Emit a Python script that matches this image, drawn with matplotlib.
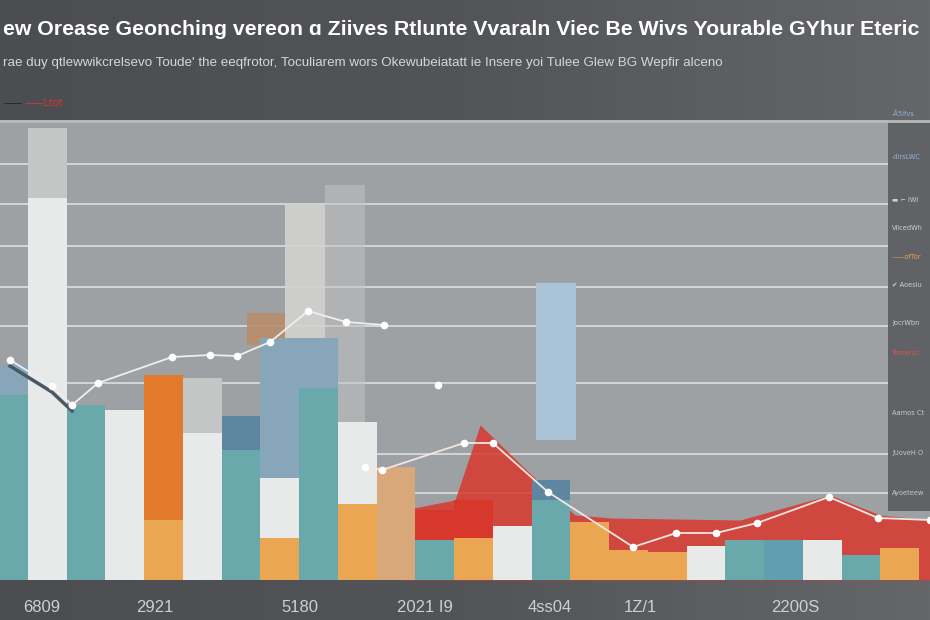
import numpy as np
import matplotlib
matplotlib.use("Agg")
import matplotlib.pyplot as plt
from matplotlib.patches import Rectangle
from matplotlib.colors import LinearSegmentedColormap

# === DONNEES ===
title = "ew Orease Geonching vereon ɑ Ziives Rtlunte Vvaraln Viec Be Wivs Yourable GYhur Eteric"
subtitle = ("rae duy qtlewwikcrelsevo Toude' the eeqfrotor, Toculiarem wors Okewubeiatatt "
            "ie Insere yoi Tulee Glew BG Wepfir alceno")

x_labels = ["6809", "2921", "5180", "2021 I9", "4ss04", "1Z/1", "2200S"]
x_label_pos = [0.86, 3.78, 7.52, 10.75, 13.97, 16.3, 20.3]

side_labels = ["-Å5ifvs", "-dirsLWC", "▬ ⌐ IWi", "ViicedWh", "——ofTor",
               "✔ Aoesiu", "JocrWbn", "Tomeroc", "Aamos Ct", "JUoveH O", "Ayoeteew"]
side_colors = ["#8fb4d8", "#8fb4d8", "#d0d0d0", "#d0d0d0", "#e9a25a", "#d0d0d0",
               "#d0d0d0", "#e0554a", "#c8c8c8", "#c8c8c8", "#c8c8c8"]
side_y = [466, 423, 380, 352, 323, 295, 257, 227, 167, 127, 87]

# barres empilées (24 catégories)
seg1 = [185, 382, 175, 170, 60, 147, 130, 42, 192, 76, 113, 40,
        42, 54, 80, 58, 30, 28, 34, 40, 40, 40, 25, 32]
seg2 = [30, 70, 0, 0, 145, 55, 34, 60, 50, 82, 0, 30,
        38, 0, 20, 0, 0, 0, 0, 0, 0, 0, 0, 0]
seg3 = [0, 0, 0, 0, 0, 0, 0, 140, 0, 0, 0, 0,
        0, 0, 0, 0, 0, 0, 0, 0, 0, 0, 0, 0]

# barres fantômes en arrière-plan
ghost_x = [6.67, 7.65, 8.68, 14.13]
ghost_bottom = [235, 140, 140, 140]
ghost_top = [267, 377, 395, 297]

grid_levels = [416, 376, 334, 293, 254, 197, 126, 87]

line1_x = [0.04, 1.12, 1.64, 2.31, 4.22, 5.2, 5.9, 6.75, 7.73, 8.71, 9.69]
line1_y = [220, 194, 175, 197, 223, 225, 224, 238, 269, 258, 255]

line2_x = [9.2, 9.64, 11.75, 12.5, 13.92, 16.12, 17.23, 18.26, 19.32, 21.17, 22.44, 23.78]
line2_y = [113, 110, 137, 137, 88, 33, 47, 47, 57, 83, 62, 60]

area_x = [10.18, 11.52, 12.17, 13.9, 14.62, 15.57, 18.88, 21.2, 22.49, 23.78]
area_y = [70, 80, 155, 90, 65, 62, 60, 85, 65, 60]

# === COULEURS ===
teal, white, orange, lorange = "#6aa9ab", "#e8e9e9", "#e27a2c", "#eaa653"
lgray, bgray, dblue, tan, red = "#c4c5c5", "#88a6ba", "#5d87a0", "#d9a87a", "#d8372c"
c1 = [teal, white, teal, white, lorange, white, teal, lorange, teal, lorange, tan, teal,
      lorange, white, teal, lorange, lorange, lorange, white, teal, "#5f9fb0", white, teal, lorange]
c2 = [bgray, lgray, dblue, white, orange, lgray, dblue, white, bgray, white, tan, red,
      red, white, dblue, lorange, lorange, lorange, white, teal, teal, white, teal, lorange]
c3 = [bgray] * 24
ghost_colors = ["#b98e6c", "#d3d3d1", "#c0c1c1", "#aac3d6"]
ghost_alpha = [0.9, 0.9, 0.55, 1.0]

# === FIGURE ===
fig = plt.figure(figsize=(9.3, 6.2), dpi=100)

# fond en dégradé
bg = fig.add_axes([0, 0, 1, 1], zorder=-1)
bg_cmap = LinearSegmentedColormap.from_list("bg", ["#4b4d50", "#525457", "#646669"])
bg.imshow(np.linspace(0, 1, 256)[None, :], aspect="auto", cmap=bg_cmap,
          extent=[0, 1, 0, 1])
bg.set_axis_off()

ax = fig.add_axes([0, 40 / 620, 1, 460 / 620])
ax.set_facecolor("#9ea1a3")
ax.set_xlim(-0.22, 23.78)
ax.set_ylim(0, 460)
for s in ax.spines.values():
    s.set_visible(False)
ax.set_xticks([])
ax.set_yticks([])

# panneau droit (légende)
ax.add_patch(Rectangle((888 / 930, 0.15), 1 - 888 / 930, 0.85, transform=ax.transAxes,
                       facecolor="#606265", edgecolor="none", zorder=0.5))
ax.hlines(grid_levels, -0.22, 22.7, colors="#d8d9da", lw=1.3, zorder=0.8)
ax.axhline(459, color="#b8babb", lw=2, zorder=0.8)

xpos = np.arange(24)
ghosts = ax.bar(ghost_x, np.array(ghost_top) - np.array(ghost_bottom), width=1.02,
                bottom=ghost_bottom, color=ghost_colors, zorder=1)
for patch, a in zip(ghosts, ghost_alpha):
    patch.set_alpha(a)

ax.fill_between(area_x, 0, area_y, color=red, alpha=0.85, lw=0, zorder=2)

b1 = np.array(seg1)
b2 = b1 + np.array(seg2)
ax.bar(xpos, seg3, bottom=b2, width=1.0, color=c3, zorder=2.5)
ax.bar(xpos, seg2, bottom=b1, width=1.0, color=c2, zorder=2.5)
ax.bar(xpos, seg1, width=1.0, color=c1, zorder=3)

ax.plot(line1_x[:3], np.array(line1_y[:3]) - 6, color="#4a5864", lw=2.5, zorder=3.8)
ax.plot(line1_x, line1_y, color="#eeeeee", lw=1.3, marker="o", ms=4.5,
        mfc="white", mec="white", zorder=4)
ax.plot(line2_x, line2_y, color="#f3e6e2", lw=1.3, marker="o", ms=4.5,
        mfc="white", mec="white", zorder=4)
ax.plot([11.08], [195], marker="o", ms=4.5, color="white", zorder=4)

# légende en haut à gauche
fig.text(0.004, 0.829, "——", color="#222222", fontsize=7)
fig.text(0.026, 0.829, "——Ltot", color="#d03a30", fontsize=7)

for lab, col, yv in zip(side_labels, side_colors, side_y):
    ax.text(22.8, yv, lab, color=col, fontsize=4.8, va="center", ha="left",
            zorder=5, clip_on=False)

# textes
fig.text(0.003, 0.952, title, color="white", fontsize=15.3, fontweight="bold",
         family="Liberation Sans", va="center", ha="left")
fig.text(0.003, 0.898, subtitle, color="#d6d6d6", fontsize=9.6,
         family="Liberation Sans", va="center", ha="left")

for lab, xp in zip(x_labels, x_label_pos):
    ax.text(xp, -27, lab, color="#cfcfcf", fontsize=12, ha="center", va="center",
            family="Liberation Sans", clip_on=False)

fig.savefig("out.png", dpi=100)
